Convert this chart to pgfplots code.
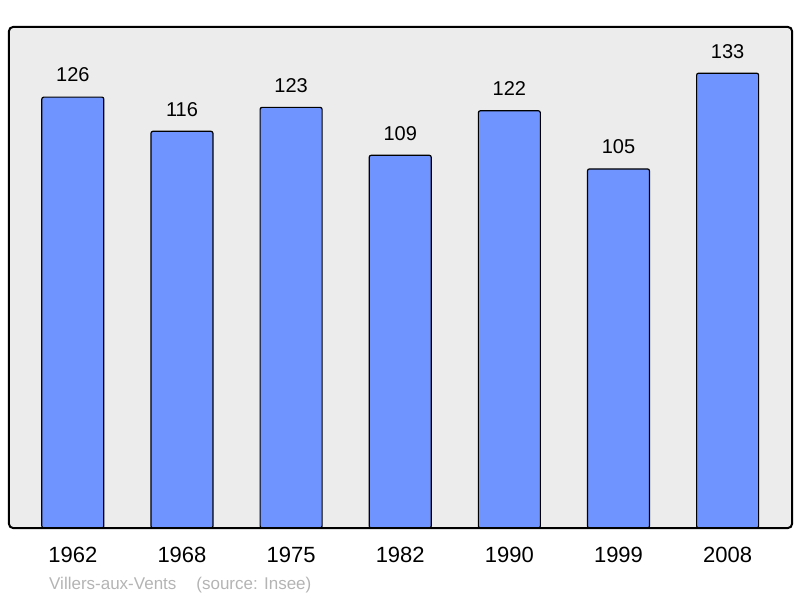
\documentclass[border=0pt]{standalone}
\usepackage{fontspec}
\setmainfont{Liberation Sans}
\usepackage{pgfplots}
\pgfplotsset{compat=1.18}
\definecolor{barblue}{HTML}{7094FF}
\definecolor{bgray}{HTML}{ECECEC}
\definecolor{srcgray}{HTML}{B4B4B4}
\begin{document}
\begin{tikzpicture}[x=1pt,y=1pt]
\useasboundingbox (0,0) rectangle (800,598);
\begin{axis}[
  at={(9pt,70pt)}, anchor=south west,
  scale only axis, width=783pt, height=501pt,
  xmin=-0.585, xmax=6.59, ymin=0, ymax=146.5,
  axis line style={draw=none},
  ytick=\empty,
  xtick={0,...,6},
  xticklabels={1962,1968,1975,1982,1990,1999,2008},
  major tick length=0pt,
  xticklabel style={font=\fontsize{22}{22}\selectfont, yshift=-16pt},
  /pgf/number format/assume math mode=true,
  clip=false,
  nodes near coords,
  every node near coord/.append style={font=\fontsize{20}{20}\selectfont, yshift=11pt, text=black},
]
\fill[bgray] (rel axis cs:0,0) rectangle (rel axis cs:1,1);
\addplot[ybar, bar width=62pt, fill=barblue, draw=black, line width=1.2pt, rounded corners=2pt] coordinates {
(0,126) (1,116) (2,123) (3,109) (4,122) (5,105) (6,133)
};
\draw[line width=2pt, rounded corners=4pt] (rel axis cs:0,0) rectangle (rel axis cs:1,1);
\end{axis}
\node[anchor=base west, text=srcgray, font=\fontsize{17}{17}\selectfont, inner sep=0pt] at (49,9) {Villers-aux-Vents\hspace{20pt}(source: Insee)};
\end{tikzpicture}
\end{document}
